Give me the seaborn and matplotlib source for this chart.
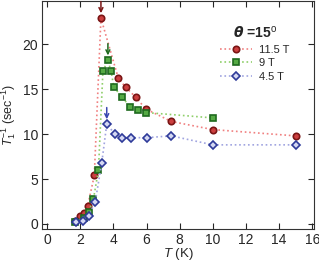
import numpy as np
import pandas as pd
import matplotlib
matplotlib.use("Agg")
import matplotlib.pyplot as plt
import seaborn as sns

# ----------- data -----------
t_115 = [1.7, 2.0, 2.2, 2.45, 2.85, 3.25, 4.3, 4.75, 5.35, 5.95, 7.5, 10.0, 15.0]
r_115 = [0.3, 0.9, 1.2, 2.0, 5.4, 22.9, 16.2, 15.2, 14.1, 12.8, 11.4, 10.5, 9.8]

t_9 = [1.7, 2.2, 2.5, 2.8, 3.1, 3.37, 3.67, 3.86, 4.03, 4.55, 5.0, 5.5, 5.95, 10.0]
r_9 = [0.2, 0.7, 1.3, 2.8, 6.0, 17.0, 18.2, 17.0, 15.2, 14.1, 13.0, 12.7, 12.4, 11.8]

t_45 = [1.75, 2.15, 2.5, 2.9, 3.3, 3.6, 4.1, 4.55, 5.05, 6.0, 7.5, 10.0, 15.0]
r_45 = [0.2, 0.35, 0.9, 2.4, 6.8, 11.1, 10.0, 9.6, 9.6, 9.6, 9.8, 8.8, 8.8]

labels = ["11.5 T", "9 T", "4.5 T"]
peaks = [(3.25, 22.9), (3.67, 18.2), (3.6, 11.1)]

# ----------- plotting -----------
sns.set_style("ticks")
plt.rcParams["font.family"] = ["Liberation Sans", "DejaVu Sans"]
plt.rcParams["mathtext.fontset"] = "custom"
plt.rcParams["mathtext.it"] = "Liberation Sans:italic"
plt.rcParams["mathtext.rm"] = "Liberation Sans"
plt.rcParams["mathtext.bf"] = "Liberation Sans:bold"

fig = plt.figure(figsize=(3.19, 2.64), dpi=100)
ax = fig.add_axes([0.132, 0.133, 0.852, 0.863])

styles = [
    dict(marker="o", mfc="#cc3f3f", mec="#7a1515", lc="#f08080", ms=4.6, arrow="#7a1515"),
    dict(marker="s", mfc="#55aa44", mec="#1e6a1e", lc="#8fcf6a", ms=4.6, arrow="#1e6a1e"),
    dict(marker="D", mfc="#d4d8f2", mec="#2e3a99", lc="#a0a4e0", ms=4.2, arrow="#3a48b0"),
]
series = [(t_115, r_115), (t_9, r_9), (t_45, r_45)]

for (tx, ry), lab, st in zip(series, labels, styles):
    df = pd.DataFrame({"T": tx, "rate": ry})
    sns.lineplot(data=df, x="T", y="rate", ax=ax, sort=False, label=lab,
                 color=st["lc"], linestyle=":", linewidth=1.2,
                 marker=st["marker"], markersize=st["ms"],
                 markerfacecolor=st["mfc"], markeredgecolor=st["mec"],
                 markeredgewidth=1.2)

for (px, py), st in zip(peaks, styles):
    ax.annotate("", xy=(px, py + 0.55), xytext=(px, py + 1.85),
                arrowprops=dict(arrowstyle="->", color=st["arrow"], lw=1.1,
                                mutation_scale=7, shrinkA=0, shrinkB=0))

ax.set_xlim(-0.3, 16.1)
ax.set_ylim(-0.55, 24.8)
ax.set_xticks(np.arange(0, 17, 2))
ax.set_yticks([0, 5, 10, 15, 20])
ax.tick_params(direction="in", top=True, right=True, labelsize=10,
               length=4, width=0.8, pad=3)
ax.set_xlabel("$T$ (K)", fontsize=9.5)
ax.set_ylabel("$T_1^{-1}$ (sec$^{-1}$)", fontsize=9)
ax.yaxis.set_label_coords(-0.09, 0.5)
ax.xaxis.set_label_coords(0.5, -0.075)
for s in ax.spines.values():
    s.set_linewidth(0.8)
    s.set_color("#333333")

leg = ax.legend(loc="upper left", bbox_to_anchor=(0.655, 0.895), frameon=False,
                fontsize=8, handlelength=2.9, handletextpad=0.6,
                labelspacing=0.32, borderpad=0, borderaxespad=0,
                title=r"$\boldsymbol{\theta}$ =15$^{\rm o}$")
leg.get_title().set_fontweight("bold")
leg.get_title().set_fontsize(10)

fig.savefig("out.png", dpi=100)
